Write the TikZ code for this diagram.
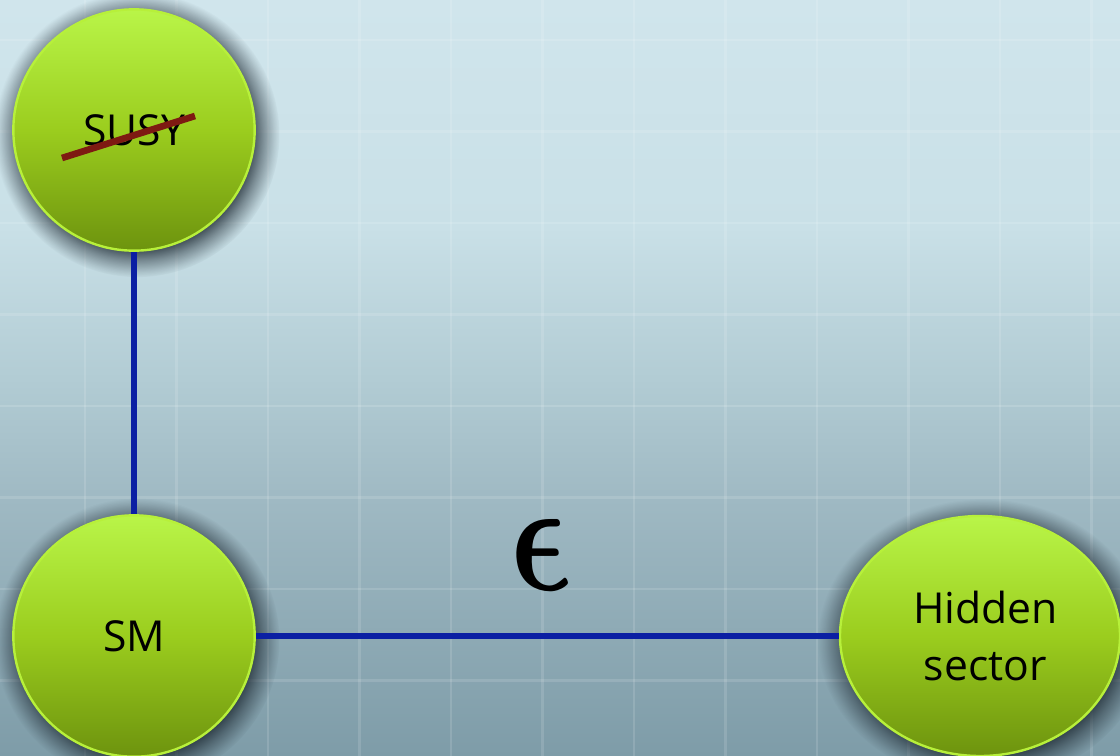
\documentclass[tikz,border=0pt]{standalone}
\usepackage{amsmath}
\usepackage{fontspec}
\newfontfamily\sectorfont{Open Sans}
\usepackage{xcolor}
\usepackage{tikz}
\usetikzlibrary{shapes.geometric,shadows,fadings}
\definecolor{backtop}{HTML}{D0E5EC}
\definecolor{backhigh}{HTML}{C9E0E7}
\definecolor{backmid}{HTML}{B2CCD4}
\definecolor{backlow}{HTML}{9FB9C3}
\definecolor{backbottom}{HTML}{7E9CA8}
\definecolor{balltop}{HTML}{B9F548}
\definecolor{ballmid}{HTML}{9BCD1E}
\definecolor{ballbottom}{HTML}{6D930E}
\definecolor{balledge}{HTML}{B7F03A}
\definecolor{shadowink}{HTML}{1E2A33}
\definecolor{linkblue}{HTML}{0B1FA3}
\definecolor{strikered}{HTML}{7E1A12}
\pgfdeclareverticalshading{backdrop}{100bp}{color(0bp)=(backbottom); color(25bp)=(backbottom); color(42bp)=(backlow); color(50bp)=(backmid); color(60bp)=(backhigh); color(75bp)=(backtop); color(100bp)=(backtop)}
\pgfdeclareradialshading{softglowshade}{\pgfpointorigin}{color(0bp)=(pgftransparent!0); color(20bp)=(pgftransparent!10); color(22bp)=(pgftransparent!50); color(24bp)=(pgftransparent!85); color(25bp)=(pgftransparent!100); color(50bp)=(pgftransparent!100)}
\pgfdeclarefading{softglow}{\pgfuseshading{softglowshade}}
\tikzset{
  sectornode/.style={
    circle,
    draw=balledge,
    line width=1.8pt,
    top color=balltop,
    bottom color=ballbottom,
    middle color=ballmid,
    minimum size=181pt,
    inner sep=0pt,
    align=center,
    font=\sectorfont\fontsize{32}{43}\selectfont,
    general shadow={shadow scale=1.18, shadow xshift=2pt, shadow yshift=-3pt, fill=shadowink, path fading=softglow, opacity=0.9}
  },
  gridline/.style={line width=2pt,draw=white,opacity=0.13},
  linkline/.style={line width=4pt,draw=linkblue},
  strikeline/.style={line width=5pt,draw=strikered},
  couplinglabel/.style={inner sep=0pt,text=black}
}
\begin{document}
\begin{tikzpicture}[x=0.75pt,y=-0.75pt]
  \useasboundingbox (0,0) rectangle (1120,756);
  \shade[shading=backdrop] (0,0) rectangle (1120,756);
  \foreach \k in {0,...,11}
    \draw[gridline] ({85+91.5*\k},0) -- ++(0,756);
  \foreach \k in {0,...,7}
    \draw[gridline] (0,{40+91.5*\k}) -- ++(1120,0);
  \node[sectornode] (susy) at (134,130) {SUSY};
  \node[sectornode] (sm) at (134,636) {SM};
  \node[sectornode, ellipse, minimum width=210pt, minimum height=180pt] (hidden) at (980,636) {\hspace*{8pt}Hidden\\\hspace*{8pt}sector};
  \coordinate (strikestart) at (62,158);
  \coordinate (strikeend) at (195,116);
  \draw[strikeline] (strikestart) -- (strikeend);
  \draw[linkline] (susy) -- (sm);
  \draw[linkline] (sm) -- node[couplinglabel, above=32pt, xshift=-1pt, xslant=-0.15, transform shape] {\scalebox{9.3}[12]{$\boldsymbol{\epsilon}$}} (hidden);
\end{tikzpicture}
\end{document}
